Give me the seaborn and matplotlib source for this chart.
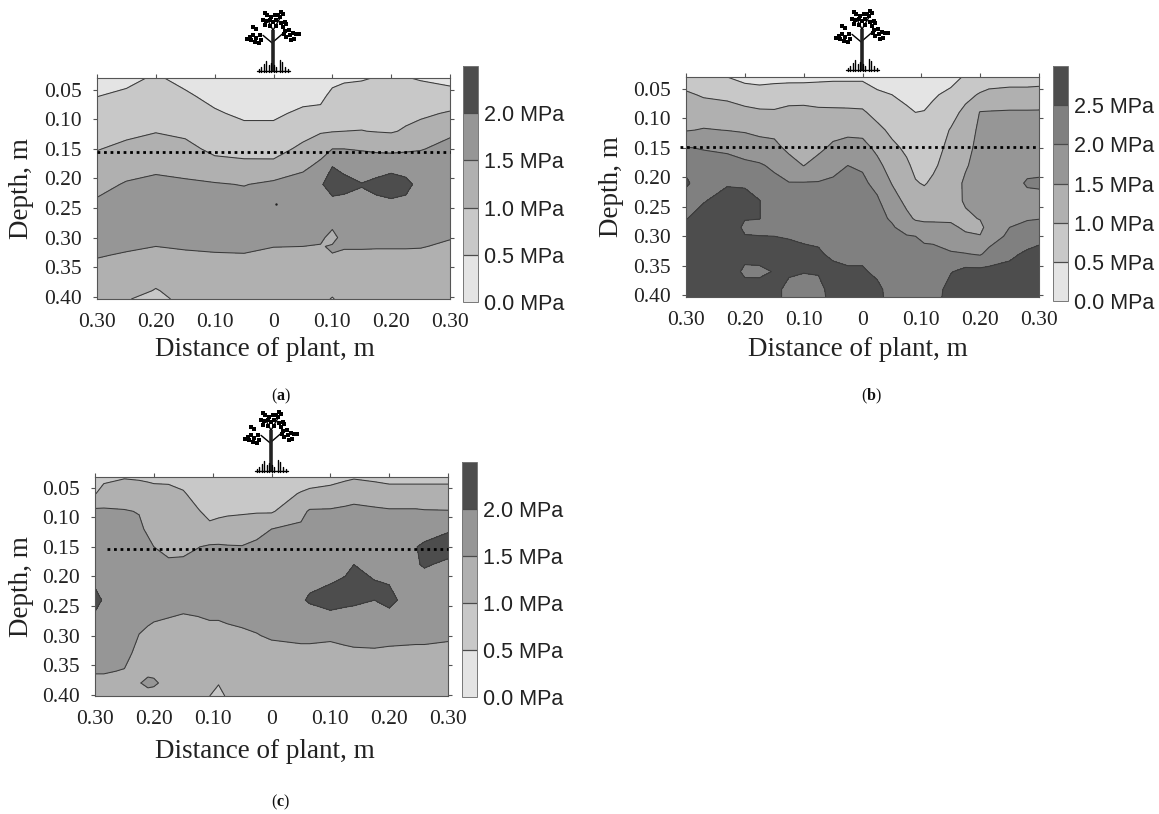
import numpy as np
import matplotlib
matplotlib.use("Agg")
import matplotlib.pyplot as plt
import seaborn as sns

W, H = 1159, 814
sns.set_theme(style="white")
plt.rcParams["mathtext.fontset"] = "custom"
plt.rcParams["mathtext.rm"] = "Liberation Serif"
plt.rcParams["mathtext.bf"] = "Liberation Serif:bold"

GREYS = ["#e4e4e4", "#c8c8c8", "#b0b0b0", "#969696", "#4d4d4d"]
GREYS_B = ["#e4e4e4", "#c8c8c8", "#b0b0b0", "#969696", "#808080", "#4d4d4d"]
X_TICKS = [-0.3, -0.2, -0.1, 0, 0.1, 0.2, 0.3]
X_LABELS = ["0.30", "0.20", "0.10", "0", "0.10", "0.20", "0.30"]
Y_TICKS = [0.05, 0.10, 0.15, 0.20, 0.25, 0.30, 0.35, 0.40]
LEVELS_A = [0, 0.5, 1.0, 1.5, 2.0, 2.5]
LEVELS_B = [0, 0.5, 1.0, 1.5, 2.0, 2.5, 3.0]

# ---- panel (a): one row per distance column, values in MPa by depth
a_x = [-.3, -.25, -.2, -.15, -.1, -.05, 0, .05, .08, .1, .12, .15, .175, .2, .225, .25, .3]
a_depth = [.03, .06, .09, .12, .15, .18, .21, .24, .27, .30, .315, .33, .36, .39, .404]
a_values = [
    [.33, .49, .65, .82, .98, 1.17, 1.36, 1.55, 1.7, 1.7, 1.62, 1.53, 1.35, 1.28, 1.25],
    [.4, .57, .74, .9, 1.1, 1.32, 1.54, 1.7, 1.75, 1.65, 1.56, 1.46, 1.35, 1.2, 1.02],
    [.55, .72, .85, .98, 1.2, 1.42, 1.6, 1.72, 1.72, 1.6, 1.5, 1.39, 1.2, .97, .9],
    [.38, .56, .74, .91, 1.12, 1.35, 1.57, 1.72, 1.75, 1.64, 1.54, 1.44, 1.3, 1.18, 1.1],
    [.2, .38, .55, .72, .9, 1.16, 1.54, 1.7, 1.75, 1.65, 1.56, 1.47, 1.32, 1.2, 1.15],
    [.1, .24, .42, .62, .85, 1.12, 1.48, 1.68, 1.75, 1.66, 1.57, 1.48, 1.32, 1.2, 1.15],
    [.1, .26, .42, .62, .83, 1.13, 1.6, 1.72, 1.76, 1.62, 1.51, 1.4, 1.3, 1.2, 1.15],
    [.2, .35, .59, .84, 1.1, 1.42, 1.68, 1.8, 1.78, 1.62, 1.5, 1.4, 1.3, 1.2, 1.15],
    [.2, .38, .62, .95, 1.35, 1.6, 1.95, 1.85, 1.75, 1.56, 1.48, 1.35, 1.3, 1.2, 1.12],
    [.35, .62, .8, .98, 1.5, 2.0, 2.2, 1.9, 1.62, 1.4, 1.53, 1.49, 1.3, 1.1, .97],
    [.42, .7, .85, 1.0, 1.5, 1.88, 2.15, 1.88, 1.75, 1.62, 1.54, 1.42, 1.3, 1.2, 1.15],
    [.46, .7, .85, 1.01, 1.47, 1.75, 2.02, 1.9, 1.78, 1.65, 1.54, 1.42, 1.3, 1.2, 1.15],
    [.52, .71, .85, .98, 1.42, 1.8, 2.12, 1.92, 1.79, 1.65, 1.53, 1.42, 1.3, 1.2, 1.15],
    [.56, .72, .85, .96, 1.38, 1.88, 2.2, 1.95, 1.8, 1.65, 1.53, 1.42, 1.3, 1.2, 1.15],
    [.52, .72, .88, 1.05, 1.43, 1.82, 2.12, 1.92, 1.78, 1.64, 1.53, 1.42, 1.3, 1.2, 1.15],
    [.46, .72, .91, 1.18, 1.48, 1.7, 1.85, 1.8, 1.75, 1.62, 1.52, 1.42, 1.3, 1.2, 1.15],
    [.35, .68, 1.05, 1.44, 1.6, 1.7, 1.75, 1.75, 1.7, 1.52, 1.44, 1.35, 1.28, 1.2, 1.15],
]
a_speck_x = [0.005]
a_speck_depth = [0.243]

# ---- panel (b)
b_x = [-.3, -.27, -.23, -.2, -.175, -.15, -.125, -.1, -.075, -.05, -.025, 0, .025,
       .05, .075, .09, .105, .12, .15, .175, .2, .215, .25, .28, .3]
b_depth = [.03, .06, .09, .12, .15, .18, .21, .24, .27, .285, .30, .33, .36, .39, .403]
b_values = [
    [.75, 1.07, 1.27, 1.47, 2.02, 2.42, 2.55, 2.35, 2.48, 2.75, 2.7, 2.8, 2.8, 2.8, 2.8],
    [.72, .95, 1.24, 1.53, 1.97, 2.2, 2.32, 2.47, 2.7, 2.78, 2.8, 2.85, 2.85, 2.8, 2.8],
    [.5, .9, 1.18, 1.49, 1.9, 2.2, 2.45, 2.7, 2.75, 2.78, 2.8, 2.85, 2.8, 2.8, 2.8],
    [.4, .68, 1.17, 1.45, 1.8, 2.1, 2.42, 2.7, 2.52, 2.42, 2.52, 2.65, 2.4, 2.7, 2.8],
    [.4, .62, 1.09, 1.37, 1.72, 2.05, 2.3, 2.51, 2.51, 2.35, 2.51, 2.65, 2.42, 2.65, 2.7],
    [.38, .7, 1.06, 1.38, 1.62, 1.92, 2.12, 2.25, 2.3, 2.38, 2.5, 2.65, 2.52, 2.6, 2.65],
    [.35, .8, 1.12, 1.27, 1.4, 1.68, 2.02, 2.2, 2.3, 2.38, 2.47, 2.65, 2.55, 2.4, 2.35],
    [.33, .85, 1.1, 1.22, 1.33, 1.49, 2.03, 2.2, 2.3, 2.38, 2.44, 2.58, 2.52, 2.3, 2.25],
    [.38, .8, 1.08, 1.22, 1.38, 1.7, 2.03, 2.18, 2.28, 2.35, 2.42, 2.55, 2.54, 2.35, 2.3],
    [.42, .75, 1.09, 1.32, 1.6, 1.85, 2.08, 2.15, 2.22, 2.28, 2.32, 2.42, 2.62, 2.7, 2.7],
    [.42, .75, 1.08, 1.38, 1.68, 2.0, 2.1, 2.15, 2.2, 2.22, 2.28, 2.38, 2.56, 2.68, 2.7],
    [.42, .75, 1.06, 1.37, 1.65, 1.95, 2.08, 2.15, 2.2, 2.22, 2.28, 2.38, 2.56, 2.65, 2.65],
    [.3, .58, .85, 1.12, 1.4, 1.62, 1.88, 2.06, 2.12, 2.15, 2.2, 2.25, 2.4, 2.62, 2.65],
    [.25, .5, .7, .9, 1.1, 1.3, 1.48, 1.72, 1.95, 2.05, 2.1, 2.2, 2.25, 2.3, 2.3],
    [.2, .38, .58, .75, .92, 1.07, 1.23, 1.38, 1.62, 1.82, 2.03, 2.15, 2.2, 2.25, 2.25],
    [.1, .28, .5, .62, .75, .9, 1.03, 1.25, 1.45, 1.7, 2.0, 2.12, 2.2, 2.25, 2.25],
    [.12, .32, .52, .65, .78, .9, .97, 1.18, 1.43, 1.62, 1.9, 2.15, 2.2, 2.2, 2.2],
    [.22, .45, .6, .72, .83, .93, 1.07, 1.27, 1.45, 1.58, 1.85, 2.18, 2.2, 2.25, 2.28],
    [.35, .6, .82, 1.03, 1.12, 1.2, 1.25, 1.32, 1.45, 1.56, 1.72, 2.05, 2.47, 2.7, 2.72],
    [.55, .85, 1.13, 1.25, 1.35, 1.45, 1.58, 1.55, 1.42, 1.45, 1.55, 2.02, 2.65, 2.75, 2.75],
    [.65, 1.05, 1.52, 1.6, 1.65, 1.7, 1.72, 1.65, 1.52, 1.4, 1.52, 1.95, 2.65, 2.8, 2.8],
    [.75, 1.12, 1.53, 1.62, 1.68, 1.72, 1.75, 1.75, 1.7, 1.65, 1.75, 2.15, 2.65, 2.8, 2.8],
    [.8, 1.15, 1.55, 1.65, 1.7, 1.75, 1.8, 1.85, 1.93, 2.0, 2.1, 2.4, 2.65, 2.8, 2.85],
    [.8, 1.15, 1.55, 1.68, 1.75, 1.85, 2.05, 1.85, 1.97, 2.1, 2.25, 2.58, 2.7, 2.8, 2.85],
    [.8, 1.18, 1.55, 1.7, 1.78, 1.9, 2.05, 1.9, 1.99, 2.12, 2.35, 2.65, 2.75, 2.8, 2.85],
]

# ---- panel (c)
c_x = [-.3, -.285, -.25, -.225, -.21, -.2, -.175, -.15, -.125, -.105, -.09, -.075, -.05,
       -.025, 0, .05, .065, .1, .125, .14, .175, .2, .22, .245, .26, .3]
c_depth = [.032, .06, .09, .12, .15, .18, .21, .24, .27, .30, .33, .36, .38, .402]
c_values = [
    [.9, .98, 1.6, 1.7, 1.75, 1.82, 1.93, 2.15, 1.92, 1.8, 1.7, 1.53, 1.4, 1.3],
    [.9, 1.15, 1.58, 1.7, 1.75, 1.8, 1.85, 1.95, 1.85, 1.78, 1.7, 1.53, 1.4, 1.3],
    [.97, 1.24, 1.53, 1.65, 1.7, 1.75, 1.78, 1.8, 1.78, 1.73, 1.62, 1.48, 1.35, 1.3],
    [.95, 1.2, 1.48, 1.58, 1.65, 1.7, 1.72, 1.7, 1.6, 1.49, 1.38, 1.32, 1.47, 1.3],
    [.92, 1.18, 1.48, 1.43, 1.6, 1.68, 1.7, 1.66, 1.55, 1.44, 1.35, 1.38, 1.62, 1.3],
    [.9, 1.15, 1.35, 1.43, 1.5, 1.65, 1.68, 1.62, 1.53, 1.4, 1.3, 1.35, 1.6, 1.25],
    [.88, 1.15, 1.25, 1.32, 1.42, 1.55, 1.65, 1.6, 1.5, 1.4, 1.32, 1.3, 1.28, 1.25],
    [.8, 1.05, 1.2, 1.3, 1.4, 1.58, 1.65, 1.6, 1.47, 1.38, 1.32, 1.28, 1.25, 1.22],
    [.6, .8, 1.04, 1.27, 1.49, 1.62, 1.68, 1.62, 1.49, 1.38, 1.3, 1.25, 1.2, 1.15],
    [.55, .7, .85, 1.13, 1.55, 1.65, 1.7, 1.62, 1.52, 1.38, 1.28, 1.2, 1.15, 1.0],
    [.55, .7, .88, 1.2, 1.55, 1.65, 1.7, 1.62, 1.52, 1.38, 1.28, 1.15, 1.02, .88],
    [.58, .72, .92, 1.22, 1.53, 1.63, 1.7, 1.65, 1.55, 1.4, 1.3, 1.2, 1.15, 1.05],
    [.6, .75, .95, 1.22, 1.52, 1.63, 1.7, 1.68, 1.6, 1.42, 1.3, 1.25, 1.22, 1.2],
    [.6, .76, .96, 1.35, 1.6, 1.68, 1.72, 1.7, 1.62, 1.48, 1.33, 1.28, 1.25, 1.22],
    [.62, .78, .95, 1.5, 1.62, 1.7, 1.75, 1.75, 1.65, 1.55, 1.35, 1.28, 1.25, 1.22],
    [.75, 1.03, 1.38, 1.58, 1.65, 1.75, 1.85, 1.95, 1.78, 1.6, 1.38, 1.3, 1.25, 1.22],
    [.78, 1.1, 1.55, 1.62, 1.68, 1.78, 1.92, 2.05, 1.8, 1.6, 1.38, 1.3, 1.25, 1.22],
    [.8, 1.2, 1.55, 1.62, 1.68, 1.8, 1.98, 2.2, 1.85, 1.55, 1.4, 1.3, 1.25, 1.22],
    [.9, 1.3, 1.58, 1.65, 1.72, 1.88, 2.06, 2.1, 1.85, 1.62, 1.4, 1.3, 1.25, 1.22],
    [.95, 1.35, 1.6, 1.68, 1.8, 2.0, 2.2, 2.07, 1.85, 1.65, 1.42, 1.3, 1.25, 1.22],
    [.9, 1.25, 1.58, 1.65, 1.72, 1.85, 2.02, 2.0, 1.85, 1.67, 1.43, 1.3, 1.25, 1.22],
    [.85, 1.2, 1.55, 1.62, 1.7, 1.8, 1.98, 2.12, 1.85, 1.62, 1.42, 1.3, 1.25, 1.22],
    [.85, 1.2, 1.55, 1.62, 1.7, 1.78, 1.92, 1.95, 1.8, 1.6, 1.42, 1.3, 1.25, 1.22],
    [.85, 1.2, 1.55, 1.7, 1.98, 1.95, 1.78, 1.75, 1.7, 1.58, 1.42, 1.3, 1.25, 1.22],
    [.85, 1.2, 1.53, 1.75, 2.1, 2.05, 1.8, 1.75, 1.7, 1.58, 1.42, 1.3, 1.25, 1.22],
    [.85, 1.2, 1.52, 1.95, 2.2, 1.9, 1.8, 1.75, 1.68, 1.55, 1.4, 1.3, 1.25, 1.22],
]

# ---- tree pictogram, offsets in zoom pixels relative to trunk base
LEAVES = [(-23, -177), (-17, -170), (25, -180), (30, -173), (20, -165), (-30, -155),
          (-20, -153), (-10, -157), (0, -150), (10, -155), (25, -147), (35, -150),
          (-25, -140), (-10, -137), (10, -137), (30, -135), (40, -143), (-60, -135),
          (-50, -130), (-70, -105), (-77, -100), (-60, -110), (-50, -103), (-40, -110),
          (-55, -90), (-43, -87), (-35, -95), (-65, -97), (35, -123), (47, -127),
          (60, -117), (70, -115), (77, -113), (50, -110), (40, -105), (63, -100),
          (55, -95), (33, -115), (-5, -165), (5, -170), (15, -170)]
BRANCHES = [(0, -85, -30, -110), (0, -90, 35, -120), (0, -125, -15, -155), (0, -125, 20, -160)]
GRASS = [(-43, -10), (-35, -15), (-27, -25), (-20, -32), (-12, -20), (10, -15),
         (20, -37), (27, -30), (35, -15), (45, -10), (-5, -28), (3, -22)]


def px_axes(fig, left, right, top, bottom):
    return fig.add_axes([left / W, 1 - bottom / H, (right - left) / W, (bottom - top) / H])


def panel(fig, box, cbox, xs, depths, values, levels, colors, dotted, dot_x,
          lab_xy, ylab_x, tag, tag_xy, tree_xy, overlay):
    ax = px_axes(fig, *box)
    X, Y = np.meshgrid(xs, depths)
    Z = np.array(values).T
    cf = ax.contourf(X, Y, Z, levels=levels, colors=sns.color_palette(colors))
    ax.contour(X, Y, Z, levels=levels[1:-1], colors="#3a3a3a", linewidths=0.75)
    ax.set_xlim(-0.3, 0.3)
    ax.set_ylim(depths[-1], depths[0])
    ax.plot(dot_x, [dotted, dotted], color="black", lw=2.0, ls=(0, (1, 1.35)), clip_on=False, zorder=5)
    ax.set_xticks(X_TICKS, X_LABELS)
    ax.set_yticks(Y_TICKS, [f"{v:.2f}" for v in Y_TICKS])
    ax.tick_params(axis="both", which="both", direction="out", length=3, width=0.8,
                   color="#555555", labelsize=15.5, labelcolor="#222222",
                   top=True, right=True, bottom=False, left=True)
    ax.tick_params(axis="x", pad=7)
    ax.tick_params(axis="y", pad=8)
    for lab in ax.get_xticklabels() + ax.get_yticklabels():
        lab.set_family("Liberation Serif")
    for s in ax.spines.values():
        s.set_color("#555555")
        s.set_linewidth(0.8)
        s.set_visible(True)
    ax.set_xlabel("Distance of plant, m", family="Liberation Serif", fontsize=19.5,
                  color="#222222", va="center")
    ax.set_ylabel("Depth, m", family="Liberation Serif", fontsize=19.5,
                  color="#222222", va="center")
    L, R, T, B = box
    ax.xaxis.set_label_coords((lab_xy[0] - L) / (R - L), (B - lab_xy[1]) / (B - T))
    ax.yaxis.set_label_coords((ylab_x - L) / (R - L), 0.5)

    cax = px_axes(fig, *cbox)
    cb = fig.colorbar(cf, cax=cax, drawedges=True)
    cb.set_ticks(levels[:-1], labels=[f"{v:.1f} MPa" for v in levels[:-1]])
    cb.ax.tick_params(length=0, pad=4, labelsize=15.5, labelcolor="#222222")
    for lab in cb.ax.get_yticklabels():
        lab.set_family("Liberation Sans")
    cb.dividers.set_color("#4a4a4a")
    cb.dividers.set_linewidth(0.9)
    cb.outline.set_edgecolor("#777777")
    cb.outline.set_linewidth(0.7)

    overlay.text(tag_xy[0], tag_xy[1], f"($\\mathbf{{{tag}}}$)", fontsize=11.5,
                 family="Liberation Serif", ha="center", va="center", color="#111111")
    tx, ty = tree_xy
    s = 1 / 3
    for x0, y0, x1, y1 in BRANCHES:
        overlay.plot([tx + x0 * s, tx + x1 * s], [ty + y0 * s, ty + y1 * s], color="black", lw=1.0)
    overlay.plot([tx, tx], [ty, ty - 125 * s], color="#222222", lw=2.6, solid_capstyle="butt")
    overlay.scatter([tx + a * s for a, _ in LEAVES], [ty + b * s for _, b in LEAVES],
                    marker="s", s=12, color="black", linewidths=0)
    for gx, gy in GRASS:
        overlay.plot([tx + gx * s, tx + gx * s], [ty, ty + gy * s], color="black", lw=1.0)
    overlay.plot([tx - 47 * s, tx + 50 * s], [ty - 1, ty - 1], color="black", lw=1.0)
    return ax


fig = plt.figure(figsize=(W / 100, H / 100), dpi=100, facecolor="white")
overlay = fig.add_axes([0, 0, 1, 1], zorder=10)
overlay.set_xlim(0, W)
overlay.set_ylim(H, 0)
overlay.axis("off")

ax_a = panel(fig, (97, 450, 78, 299), (463, 478, 66, 302), a_x, a_depth, a_values, LEVELS_A, GREYS,
             0.155, [-0.3, 0.3], (265, 350), 22, "a", (281, 396), (273, 72), overlay)
ax_a.scatter(a_speck_x, a_speck_depth, s=3, color="#222222", linewidths=0, zorder=4)
panel(fig, (686, 1039, 77, 297), (1053, 1068, 66, 301), b_x, b_depth, b_values, LEVELS_B, GREYS_B,
      0.148, [-0.31, 0.3], (858, 350), 612, "b", (871, 396), (862, 71), overlay)
panel(fig, (95, 448, 477, 696), (462, 477, 462, 697), c_x, c_depth, c_values, LEVELS_A, GREYS,
      0.153, [-0.28, 0.3], (265, 751), 22, "c", (281, 802), (271, 472), overlay)

fig.savefig("out.png", dpi=100, facecolor="white")
